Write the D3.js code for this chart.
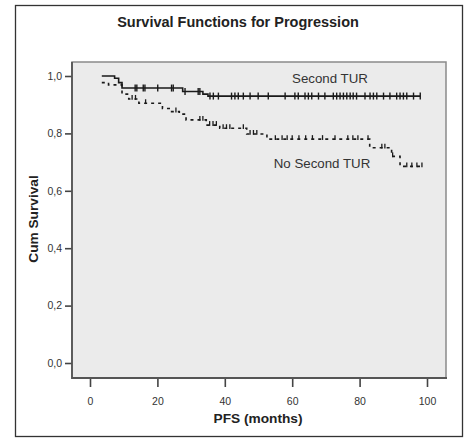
<!DOCTYPE html>
<html><head><meta charset="utf-8">
<script src="https://cdn.jsdelivr.net/npm/d3@7"></script>
<style>body{margin:0;background:#fff}svg{display:block}text{font-family:"Liberation Sans",Arial,sans-serif}</style>
</head><body>
<script>
// Data
const xTicks = [0, 20, 40, 60, 80, 100];
const yTicks = [0, 0.2, 0.4, 0.6, 0.8, 1.0];

const secondTimes = [3.5, 7.3, 8.5, 9.5, 27.5, 33.5, 35.0];
const secondSurv  = [1.0, 0.992, 0.977, 0.958, 0.946, 0.937, 0.930];
const secondEnd = 98;
const secondCensored = [13.4, 13.9, 15.8, 16.3, 20.1, 24.2, 24.7, 28.2, 32.1, 32.6, 35.6, 36.6, 38.1, 42.0, 43.0, 44.0, 45.5, 47.5, 49.9, 52.9, 57.9, 60.8, 61.8, 63.8, 64.8, 65.8, 67.8, 69.7, 72.2, 73.2, 74.2, 75.2, 76.2, 77.2, 78.1, 79.1, 81.6, 83.1, 84.1, 85.1, 87.1, 89.0, 91.0, 92.0, 93.0, 94.0, 96.0, 98.0];

const noSecondTimes = [3.5, 5.5, 9.5, 11.5, 14.5, 21.5, 23.5, 26.5, 28.5, 34.5, 38.5, 46.5, 52.5, 83.0, 89.5, 92.0];
const noSecondSurv  = [0.977, 0.969, 0.937, 0.92, 0.905, 0.887, 0.876, 0.867, 0.847, 0.829, 0.818, 0.798, 0.78, 0.75, 0.72, 0.685];
const noSecondEnd = 99;
const noSecondCensored = [12.5, 13.5, 16.5, 25.5, 32.6, 33.5, 35.5, 36.5, 37.5, 39.5, 40.5, 41.5, 45.5, 47.5, 48.5, 49.5, 55, 57, 58.5, 60, 62, 64, 66, 69, 72.7, 76.5, 78, 79.5, 82.5, 86.6, 87.5, 89.8, 94, 95.5, 97, 98.5];

const W = 471, H = 438;
const svg = d3.select("body").append("svg").attr("width", W).attr("height", H);

// outer frame
svg.append("rect").attr("x", 15.5).attr("y", 5.5).attr("width", 447).attr("height", 431)
  .attr("fill", "#fff").attr("stroke", "#333").attr("stroke-width", 1.3);

const x = d3.scaleLinear().domain([0, 100]).range([90, 427]);
const y = d3.scaleLinear().domain([0, 1]).range([363, 76]);

const plotL = 72, plotT = 62, plotR = 446, plotB = 378;
svg.append("rect").attr("x", plotL).attr("y", plotT).attr("width", plotR - plotL).attr("height", plotB - plotT)
  .attr("fill", "#ebebeb").attr("stroke", "#8a8a8a").attr("stroke-width", 1.5);

// title
svg.append("text").attr("x", 238).attr("y", 27).attr("text-anchor", "middle")
  .attr("font-size", 14.5).attr("font-weight", "bold").attr("fill", "#222")
  .text("Survival Functions for Progression");

// axes
const fmt = d => d3.format(".1f")(d).replace(".", ",");
const yAxis = svg.append("g").attr("transform", `translate(${plotL},0)`)
  .call(d3.axisLeft(y).tickValues(yTicks).tickFormat(fmt).tickSize(7).tickPadding(3));
const xAxis = svg.append("g").attr("transform", `translate(0,${plotB})`)
  .call(d3.axisBottom(x).tickValues(xTicks).tickSize(9).tickPadding(11));
[yAxis, xAxis].forEach(g => {
  g.select(".domain").remove();
  g.selectAll(".tick line").attr("stroke", "#444").attr("stroke-width", 1.6);
  g.selectAll(".tick text").attr("fill", "#333").attr("font-size", 10.5).attr("font-family", "Liberation Sans, Arial, sans-serif");
});
// axis lines
svg.append("line").attr("x1", plotL).attr("x2", plotL).attr("y1", plotT).attr("y2", plotB + 1)
  .attr("stroke", "#555").attr("stroke-width", 1.8);
svg.append("line").attr("x1", plotL).attr("x2", plotR + 1).attr("y1", plotB).attr("y2", plotB)
  .attr("stroke", "#555").attr("stroke-width", 1.8);

svg.append("text").attr("x", 258).attr("y", 423).attr("text-anchor", "middle")
  .attr("font-size", 13.7).attr("font-weight", "bold").attr("fill", "#222").text("PFS (months)");
svg.append("text").attr("transform", "translate(38,219) rotate(-90)").attr("text-anchor", "middle")
  .attr("font-size", 13.7).attr("font-weight", "bold").attr("fill", "#222").text("Cum Survival");

// step curve builder
function stepPoints(times, surv, end) {
  const pts = times.map((t, i) => [t, surv[i]]);
  pts.push([end, surv[surv.length - 1]]);
  return pts;
}
function survAt(times, surv, t) {
  let v = surv[0];
  for (let i = 0; i < times.length; i++) if (times[i] <= t) v = surv[i];
  return v;
}
const line = d3.line().x(d => x(d[0])).y(d => y(d[1])).curve(d3.curveStepAfter);

// Second TUR (solid)
svg.append("path").datum(stepPoints(secondTimes, secondSurv, secondEnd))
  .attr("d", line).attr("fill", "none").attr("stroke", "#1a1a1a").attr("stroke-width", 1.6);
svg.append("g").selectAll("line").data(secondCensored).join("line")
  .attr("x1", d => x(d)).attr("x2", d => x(d))
  .attr("y1", d => y(survAt(secondTimes, secondSurv, d)) - 3.5)
  .attr("y2", d => y(survAt(secondTimes, secondSurv, d)) + 3.5)
  .attr("stroke", "#1a1a1a").attr("stroke-width", 1.4);

// No Second TUR (dashed)
svg.append("path").datum(stepPoints(noSecondTimes, noSecondSurv, noSecondEnd))
  .attr("d", line).attr("fill", "none").attr("stroke", "#1a1a1a").attr("stroke-width", 1.6)
  .attr("stroke-dasharray", "3,4");
svg.append("g").selectAll("line").data(noSecondCensored).join("line")
  .attr("x1", d => x(d)).attr("x2", d => x(d))
  .attr("y1", d => y(survAt(noSecondTimes, noSecondSurv, d)) - 4)
  .attr("y2", d => y(survAt(noSecondTimes, noSecondSurv, d)) + 0.8)
  .attr("stroke", "#1a1a1a").attr("stroke-width", 1.3);

// labels
svg.append("text").attr("x", 330).attr("y", 83).attr("text-anchor", "middle")
  .attr("font-size", 13.3).attr("fill", "#333").text("Second TUR");
svg.append("text").attr("x", 322).attr("y", 168).attr("text-anchor", "middle")
  .attr("font-size", 13.3).attr("fill", "#333").text("No Second TUR");
</script>
</body></html>
